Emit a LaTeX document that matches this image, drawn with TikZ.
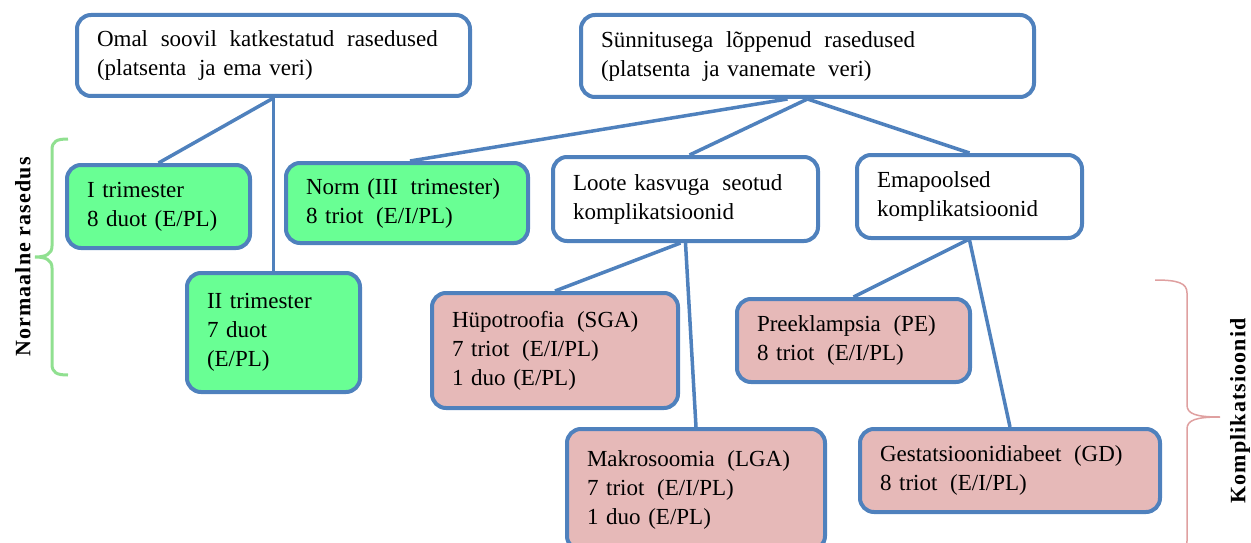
\documentclass[tikz,border=0pt]{standalone}
\usepackage{fontspec}
\setmainfont{Liberation Serif}
\newfontfamily\labelfont[LetterSpace=5]{Liberation Serif}
\usetikzlibrary{backgrounds}
\newcommand\dsp{\hspace{5pt}}
\definecolor{edgeblue}{HTML}{4F81BD}
\definecolor{mint}{HTML}{69FF94}
\definecolor{rose}{HTML}{E6B9B8}
\definecolor{bracegreen}{HTML}{90E090}
\definecolor{bracerose}{HTML}{DFA0A0}
\tikzset{
  box/.style={draw=edgeblue, line width=4pt, rounded corners=14pt, fill=white,
    inner xsep=20pt, inner ysep=0pt, align=left,
    font=\fontsize{23}{29}\selectfont},
  normalbox/.style={box, fill=mint},
  complbox/.style={box, fill=rose},
  link/.style={draw=edgeblue, line width=3.5pt},
  sidelabel/.style={rotate=90, font=\fontsize{22}{26}\selectfont\labelfont\bfseries}
}
\begin{document}
\begin{tikzpicture}[x=1pt, y=-1pt]
\useasboundingbox (0,0) rectangle (1251,543);

% top level
\node[box, text width=353pt, minimum height=81pt] (top1) at (273.5,55.5)
  {Omal\dsp{} soovil\dsp{} katkestatud\dsp{} rasedused\\(platsenta\dsp{} ja ema veri)};
\node[box, text width=413pt, minimum height=82pt] (top2) at (807.5,56)
  {Sünnitusega\dsp{} lõppenud\dsp{} rasedused\\(platsenta\dsp{} ja vanemate\dsp{} veri)};

% second level
\node[normalbox, text width=143pt, minimum height=83pt] (itri) at (158.5,206.5)
  {I trimester\\8 duot (E/PL)};
\node[normalbox, text width=202pt, minimum height=80pt] (norm) at (407,203)
  {Norm (III\dsp{} trimester)\\8 triot\dsp{} (E/I/PL)};
\node[box, text width=225pt, minimum height=84pt] (loote) at (685.5,199)
  {Loote kasvuga\dsp{} seotud\\komplikatsioonid};
\node[box, text width=185pt, minimum height=83pt] (ema) at (969.5,196.5)
  {Emapoolsed\\komplikatsioonid};

% third level
\node[normalbox, text width=133pt, minimum height=119pt] (iitri) at (273.5,332.5)
  {II trimester\\7 duot\\(E/PL)};
\node[complbox, text width=206pt, minimum height=115pt] (hup) at (555,350.5)
  {Hüpotroofia\dsp{} (SGA)\\7 triot\dsp{} (E/I/PL)\\1 duo (E/PL)};
\node[complbox, text width=193pt, minimum height=83pt] (preek) at (853.5,340.5)
  {Preeklampsia\dsp{} (PE)\\8 triot\dsp{} (E/I/PL)};
\node[complbox, text width=218pt, minimum height=121pt] (makro) at (696,489.5)
  {Makrosoomia\dsp{} (LGA)\\7 triot\dsp{} (E/I/PL)\\1 duo (E/PL)};
\node[complbox, text width=260pt, minimum height=83pt] (gest) at (1010,470.5)
  {Gestatsioonidiabeet\dsp{} (GD)\\8 triot\dsp{} (E/I/PL)};

% connectors behind the boxes
\begin{scope}[on background layer]
  \draw[link] (top1.south) -- (itri.north);
  \draw[link] (top1.south) -- (iitri.north);
  \draw[link] ([xshift=-20pt]top2.south) -- ([xshift=3pt]norm.north);
  \draw[link] (top2.south) -- ([xshift=4pt]loote.north);
  \draw[link] (top2.south) -- (ema.north);
  \draw[link] ([xshift=-5pt]loote.south) -- (hup.north);
  \draw[link] (loote.south) -- (makro.north);
  \draw[link] ([xshift=-2pt]ema.south) -- (preek.north);
  \draw[link] (ema.south) -- (gest.north);
\end{scope}

% left brace
\draw[bracegreen, line width=3pt]
  (68,139) .. controls (57,139) and (52,141) .. (52,150) -- (52,246)
  .. controls (52,254) and (46,257) .. (35,257)
  .. controls (46,257) and (52,260) .. (52,268) -- (52,364)
  .. controls (52,373) and (57,375) .. (68,375);
\node[sidelabel] (normlabel) at (23,257) {Normaalne rasedus};

% right brace
\draw[bracerose, line width=1.5pt]
  (1155,280) .. controls (1178,280) and (1187,283) .. (1187,293) -- (1187,405)
  .. controls (1187,414) and (1196,417) .. (1220,417)
  .. controls (1196,417) and (1187,420) .. (1187,429) -- (1187,541)
  .. controls (1187,551) and (1178,554) .. (1155,554);
\node[sidelabel] (compllabel) at (1240,411) {Komplikatsioonid};
\end{tikzpicture}
\end{document}
